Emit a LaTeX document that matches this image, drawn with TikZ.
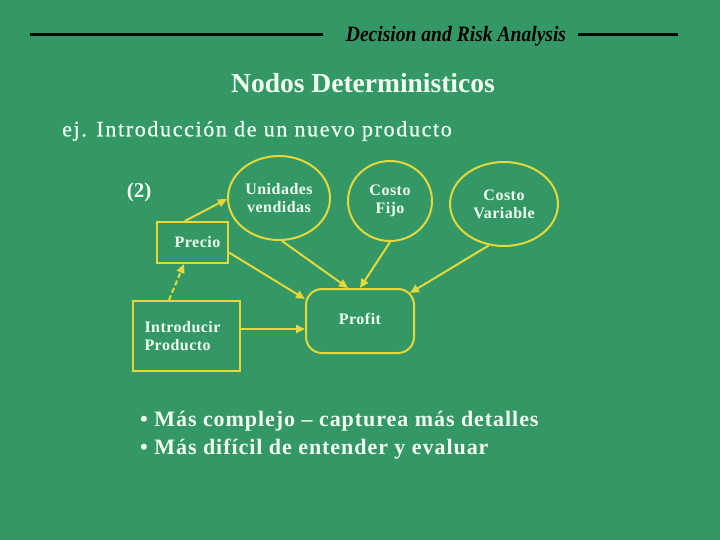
\documentclass[tikz,border=0pt]{standalone}
\usepackage{fontspec}
\setmainfont{Liberation Serif}
\usetikzlibrary{arrows.meta,shapes.geometric,calc}
\definecolor{bg}{RGB}{52,152,102}
\definecolor{yl}{RGB}{228,216,58}
\definecolor{tx}{RGB}{240,255,240}
\newcommand{\nodefont}{\bfseries\fontsize{16}{18}\selectfont\addfontfeatures{LetterSpace=3}}
\tikzset{
  conn/.style={draw=yl, line width=2pt, -{Triangle[length=9pt,width=8pt]}},
  ell/.style={ellipse, draw=yl, line width=2pt, text=tx, font=\nodefont, align=center, inner sep=0pt},
  box/.style={rectangle, draw=yl, line width=2pt, text=tx, font=\nodefont, inner sep=0pt},
  lbl/.style={text=tx, inner sep=0pt}
}
\begin{document}
\begin{tikzpicture}[x=1pt,y=-1pt]
\fill[bg] (0,0) rectangle (720,540);
\useasboundingbox (0,0) rectangle (720,540);
% header
\coordinate (hl1) at (30,35);
\coordinate (hl2) at (323,35);
\coordinate (hr1) at (578,35);
\coordinate (hr2) at (678,35);
\draw[line width=3pt] (hl1) -- (hl2);
\draw[line width=3pt] (hr1) -- (hr2);
\node[inner sep=0pt] (hdr) at (456,36) {\scalebox{1.03}[1.15]{\fontsize{19}{20}\selectfont\bfseries\itshape Decision and Risk Analysis}};
% titles
\node[lbl] (title) at (363,83) {\fontsize{27.5}{30}\selectfont\bfseries Nodos Deterministicos};
\node[lbl, anchor=west] (ej) at (62,131) {\fontsize{22}{24}\selectfont\addfontfeatures{LetterSpace=7.5,FakeBold=0.6}ej. Introducción de un nuevo producto};
\node[lbl] (two) at (139,192) {\fontsize{21}{22}\selectfont\bfseries (2)};
% nodes
\node[ell, minimum width=102pt, minimum height=84pt] (uv) at (279,198) {Unidades\\vendidas};
\node[ell, minimum width=84pt, minimum height=80pt] (cf) at (390,201) {Costo\\Fijo};
\node[ell, minimum width=108pt, minimum height=84pt] (cv) at (504,204) {Costo\\Variable};
\node[box, minimum width=71pt, minimum height=41pt] (pr) at (192.5,242.5) {\hspace*{10pt}Precio};
\node[box, minimum width=107pt, minimum height=70pt, align=left, text width=98pt] (ip) at (186.5,336) {\hspace*{7pt}Introducir\\\hspace*{7pt}Producto};
\node[box, rounded corners=16pt, minimum width=108pt, minimum height=64pt] (pf) at (360,321) {\raisebox{4pt}{Profit}};
% connectors
\draw[conn] ([xshift=29pt]pr.north west) -- ([yshift=-1pt]uv.west);
\draw[conn, dash pattern=on 5pt off 3pt] ([xshift=37pt]ip.north west) -- ([xshift=28pt]pr.south west);
\draw[conn] ([yshift=-10pt]pr.east) -- ([yshift=-11pt]pf.north west);
\draw[conn] ([xshift=3pt]uv.south) -- ([xshift=-12pt]pf.north);
\draw[conn] (cf.south) -- (pf.north);
\draw[conn] (cv.250) -- ([xshift=-5pt,yshift=-5pt]pf.north east);
\draw[conn] ([yshift=7pt]ip.east) -- ([yshift=-8pt]pf.west);
% bullets
\node[lbl, anchor=west, align=left] (b1) at (140,421) {\fontsize{22}{28}\selectfont\bfseries\addfontfeatures{LetterSpace=4.3}• Más complejo – capturea más detalles};
\node[lbl, anchor=west, align=left] (b2) at (140,449) {\fontsize{22}{28}\selectfont\bfseries\addfontfeatures{LetterSpace=4.3}• Más difícil de entender y evaluar};
\end{tikzpicture}
\end{document}
